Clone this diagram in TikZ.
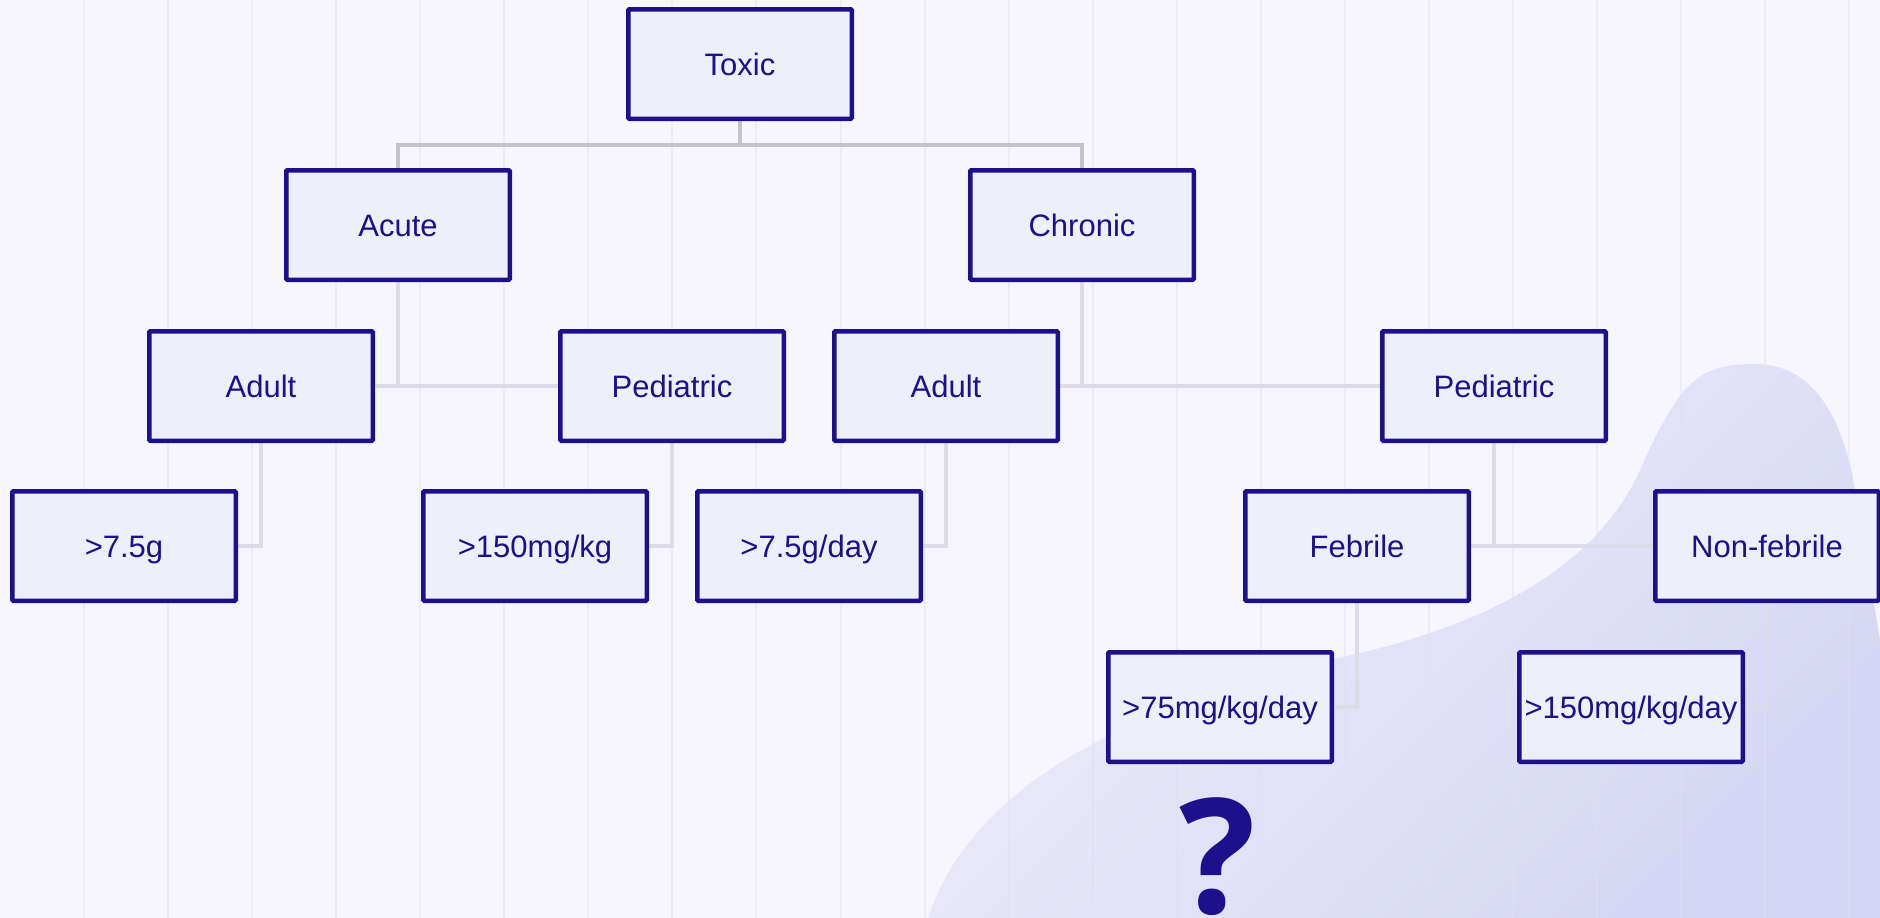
\documentclass[tikz,border=0pt]{standalone}
\usepackage{fontspec}
\setmainfont{Liberation Sans}
\newfontfamily\qmarkfont{Open Sans}
\usetikzlibrary{backgrounds}

\definecolor{ink}{HTML}{1E0F8C}
\definecolor{boxfill}{HTML}{EFEEFB}
\definecolor{paper}{HTML}{F7F6FE}
\definecolor{gridline}{HTML}{E0DFF0}
\definecolor{busgrey}{HTML}{C4C3CD}
\definecolor{linkgrey}{HTML}{DDDCE6}
\definecolor{blobtop}{HTML}{EFEEFA}
\definecolor{blobbottom}{HTML}{D5D6F4}

\begin{document}
\begin{tikzpicture}[x=1pt,y=-1pt,
  box/.style={draw=ink, fill=boxfill, line width=4.5pt, rounded corners=1pt,
    minimum width=223.5pt, minimum height=109.5pt, inner sep=0pt, text=ink,
    font=\fontsize{31}{37}\selectfont, text height=22pt, text depth=0pt},
  bus/.style={draw=busgrey, line width=4.5pt},
  link/.style={draw=linkgrey, line width=4.5pt}]
\useasboundingbox (0,0) rectangle (1880,918);

\node[box] (toxic) at (740,64) {Toxic};

\node[box] (acute) at (398,225) {Acute};
\node[box] (chronic) at (1082,225) {Chronic};

\node[box] (adultA) at (261,386) {Adult};
\node[box] (pedA) at (672,386) {Pediatric};
\node[box] (adultC) at (946,386) {Adult};
\node[box] (pedC) at (1494,386) {Pediatric};

\node[box] (gramA) at (124,546) {>7.5g};
\node[box] (perkgA) at (535,546) {>150mg/kg};
\node[box] (gramC) at (809,546) {>7.5g/day};
\node[box] (febrile) at (1357,546) {Febrile};
\node[box] (nonfeb) at (1767,546) {Non-febrile};

\node[box] (perdayF) at (1220,707) {>75mg/kg/day};
\node[box] (perdayN) at (1631,707) {>150mg/kg/day};

\node[text=ink, anchor=base, inner sep=0pt,
  font=\qmarkfont\bfseries\fontsize{160}{160}\selectfont] (qmark) at (1218,913) {?};

\coordinate (split) at (740,145);

%%% backdrop and connectors
\begin{scope}[on background layer]
\clip (0,0) rectangle (1880,918);
\fill[paper] (0,0) rectangle (1880,918);
\shade[shading=axis, top color=blobtop, bottom color=blobbottom, shading angle=45]
  (928,918) .. controls (975,775) and (1150,700) .. (1360,653)
  .. controls (1500,620) and (1600,560) .. (1640,470)
  .. controls (1680,380) and (1700,364) .. (1755,364)
  .. controls (1820,364) and (1845,430) .. (1855,490)
  -- (1890,700) -- (1890,918) -- cycle;
\foreach \k in {1,...,22}
  \draw[gridline, opacity=0.45, line width=2pt] (84.05*\k,0) to (84.05*\k,918);

\draw[bus] (toxic.south) to (split);
\draw[bus] (split) -| (acute.north);
\draw[bus] (split) -| (chronic.north);

\draw[link] (acute.south) to (acute |- adultA.east);
\draw[link] (adultA.east) to (pedA.west);
\draw[link] (chronic.south) to (chronic |- adultC.east);
\draw[link] (adultC.east) to (pedC.west);

\draw[link] (adultA.south) |- (gramA.east);
\draw[link] (pedA.south) |- (perkgA.east);
\draw[link] (adultC.south) |- (gramC.east);
\draw[link] (pedC.south) to (pedC |- febrile.east);
\draw[link] (febrile.east) to (nonfeb.west);

\draw[link] (febrile.south) |- (perdayF.east);
\draw[link] (nonfeb.south) |- (perdayN.east);
\end{scope}
\end{tikzpicture}
\end{document}
